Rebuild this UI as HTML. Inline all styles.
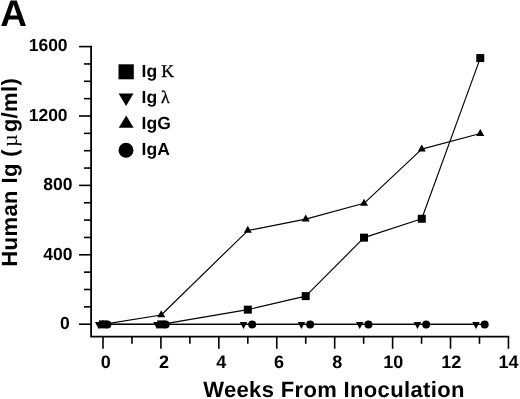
<!DOCTYPE html>
<html><head><meta charset="utf-8"><style>
html,body{margin:0;padding:0;background:#fff;}
svg{display:block;}
text{text-rendering:geometricPrecision;}
</style></head><body>
<svg style="will-change:transform" width="520" height="399" viewBox="0 0 520 399">
<rect x="0" y="0" width="520" height="399" fill="#fff"/>
<path d="M91.1 45.700000000000024V336.6H509.24" fill="none" stroke="#000" stroke-width="1.8"/>
<line x1="79" y1="324.20" x2="91.1" y2="324.20" stroke="#000" stroke-width="1.6"/>
<line x1="84" y1="306.85" x2="91.1" y2="306.85" stroke="#000" stroke-width="1.6"/>
<line x1="84" y1="289.50" x2="91.1" y2="289.50" stroke="#000" stroke-width="1.6"/>
<line x1="84" y1="272.15" x2="91.1" y2="272.15" stroke="#000" stroke-width="1.6"/>
<line x1="79" y1="254.80" x2="91.1" y2="254.80" stroke="#000" stroke-width="1.6"/>
<line x1="84" y1="237.45" x2="91.1" y2="237.45" stroke="#000" stroke-width="1.6"/>
<line x1="84" y1="220.10" x2="91.1" y2="220.10" stroke="#000" stroke-width="1.6"/>
<line x1="84" y1="202.75" x2="91.1" y2="202.75" stroke="#000" stroke-width="1.6"/>
<line x1="79" y1="185.40" x2="91.1" y2="185.40" stroke="#000" stroke-width="1.6"/>
<line x1="84" y1="168.05" x2="91.1" y2="168.05" stroke="#000" stroke-width="1.6"/>
<line x1="84" y1="150.70" x2="91.1" y2="150.70" stroke="#000" stroke-width="1.6"/>
<line x1="84" y1="133.35" x2="91.1" y2="133.35" stroke="#000" stroke-width="1.6"/>
<line x1="79" y1="116.00" x2="91.1" y2="116.00" stroke="#000" stroke-width="1.6"/>
<line x1="84" y1="98.65" x2="91.1" y2="98.65" stroke="#000" stroke-width="1.6"/>
<line x1="84" y1="81.30" x2="91.1" y2="81.30" stroke="#000" stroke-width="1.6"/>
<line x1="84" y1="63.95" x2="91.1" y2="63.95" stroke="#000" stroke-width="1.6"/>
<line x1="79" y1="46.60" x2="91.1" y2="46.60" stroke="#000" stroke-width="1.6"/>
<line x1="103.00" y1="336.6" x2="103.00" y2="348.8" stroke="#000" stroke-width="1.6"/>
<line x1="131.96" y1="336.6" x2="131.96" y2="343.8" stroke="#000" stroke-width="1.6"/>
<line x1="160.92" y1="336.6" x2="160.92" y2="348.8" stroke="#000" stroke-width="1.6"/>
<line x1="189.88" y1="336.6" x2="189.88" y2="343.8" stroke="#000" stroke-width="1.6"/>
<line x1="218.84" y1="336.6" x2="218.84" y2="348.8" stroke="#000" stroke-width="1.6"/>
<line x1="247.80" y1="336.6" x2="247.80" y2="343.8" stroke="#000" stroke-width="1.6"/>
<line x1="276.76" y1="336.6" x2="276.76" y2="348.8" stroke="#000" stroke-width="1.6"/>
<line x1="305.72" y1="336.6" x2="305.72" y2="343.8" stroke="#000" stroke-width="1.6"/>
<line x1="334.68" y1="336.6" x2="334.68" y2="348.8" stroke="#000" stroke-width="1.6"/>
<line x1="363.64" y1="336.6" x2="363.64" y2="343.8" stroke="#000" stroke-width="1.6"/>
<line x1="392.60" y1="336.6" x2="392.60" y2="348.8" stroke="#000" stroke-width="1.6"/>
<line x1="421.56" y1="336.6" x2="421.56" y2="343.8" stroke="#000" stroke-width="1.6"/>
<line x1="450.52" y1="336.6" x2="450.52" y2="348.8" stroke="#000" stroke-width="1.6"/>
<line x1="479.48" y1="336.6" x2="479.48" y2="343.8" stroke="#000" stroke-width="1.6"/>
<line x1="508.44" y1="336.6" x2="508.44" y2="348.8" stroke="#000" stroke-width="1.6"/>
<polyline points="98.70,324.40 156.92,324.40 243.50,324.40 301.42,324.40 359.74,324.40 417.46,324.40 475.98,324.40" fill="none" stroke="#000" stroke-width="1.15" stroke-linejoin="round"/>
<polyline points="107.40,324.40 165.62,324.40 252.20,324.40 310.12,324.40 368.44,324.40 426.16,324.40 484.68,324.40" fill="none" stroke="#000" stroke-width="1.15" stroke-linejoin="round"/>
<polyline points="103.00,324.40 161.22,324.40 247.80,309.65 305.72,296.12 364.04,237.65 421.76,218.74 480.28,58.08" fill="none" stroke="#000" stroke-width="1.15" stroke-linejoin="round"/>
<polyline points="103.00,324.40 161.22,315.03 247.80,230.54 305.72,219.09 364.04,203.30 421.76,149.16 480.28,133.55" fill="none" stroke="#000" stroke-width="1.15" stroke-linejoin="round"/>
<path d="M94.95 322.07L102.45 322.07L98.70 329.07Z" fill="#000"/>
<circle cx="107.40" cy="324.40" r="4" fill="#000"/>
<path d="M153.17 322.07L160.67 322.07L156.92 329.07Z" fill="#000"/>
<circle cx="165.62" cy="324.40" r="4" fill="#000"/>
<path d="M239.75 322.07L247.25 322.07L243.50 329.07Z" fill="#000"/>
<circle cx="252.20" cy="324.40" r="4" fill="#000"/>
<path d="M297.67 322.07L305.17 322.07L301.42 329.07Z" fill="#000"/>
<circle cx="310.12" cy="324.40" r="4" fill="#000"/>
<path d="M355.99 322.07L363.49 322.07L359.74 329.07Z" fill="#000"/>
<circle cx="368.44" cy="324.40" r="4" fill="#000"/>
<path d="M413.71 322.07L421.21 322.07L417.46 329.07Z" fill="#000"/>
<circle cx="426.16" cy="324.40" r="4" fill="#000"/>
<path d="M472.23 322.07L479.73 322.07L475.98 329.07Z" fill="#000"/>
<circle cx="484.68" cy="324.40" r="4" fill="#000"/>
<rect x="99.00" y="320.40" width="8" height="8" fill="#000"/>
<rect x="157.22" y="320.40" width="8" height="8" fill="#000"/>
<rect x="243.80" y="305.65" width="8" height="8" fill="#000"/>
<rect x="301.72" y="292.12" width="8" height="8" fill="#000"/>
<rect x="360.04" y="233.65" width="8" height="8" fill="#000"/>
<rect x="417.76" y="214.74" width="8" height="8" fill="#000"/>
<rect x="476.28" y="54.08" width="8" height="8" fill="#000"/>
<path d="M103.00 319.73L107.00 326.73L99.00 326.73Z" fill="#000"/>
<path d="M161.22 310.36L165.22 317.36L157.22 317.36Z" fill="#000"/>
<path d="M247.80 225.87L251.80 232.87L243.80 232.87Z" fill="#000"/>
<path d="M305.72 214.42L309.72 221.42L301.72 221.42Z" fill="#000"/>
<path d="M364.04 198.63L368.04 205.63L360.04 205.63Z" fill="#000"/>
<path d="M421.76 144.50L425.76 151.50L417.76 151.50Z" fill="#000"/>
<path d="M480.28 128.88L484.28 135.88L476.28 135.88Z" fill="#000"/>
<rect x="118.5" y="64.3" width="15.3" height="15" fill="#000"/>
<path d="M118.6 93.5H133.5L126.1 106Z" fill="#000"/>
<path d="M126.2 115.6L133.6 127.7H118.7Z" fill="#000"/>
<circle cx="126" cy="150.2" r="7.5" fill="#000"/>
<text x="141.6" y="76.5" font-family="'Liberation Sans', sans-serif" font-weight="bold" font-size="17.5">Ig<tspan x="161.3" font-family="'Liberation Serif', serif" font-weight="normal" font-size="17.8" stroke="#000" stroke-width="0.35">K</tspan></text>
<text x="141.6" y="102.5" font-family="'Liberation Sans', sans-serif" font-weight="bold" font-size="17.5">Ig<tspan x="161.1" font-family="'Liberation Serif', serif" font-weight="normal" font-size="17.8" stroke="#000" stroke-width="0.35">λ</tspan></text>
<text x="141.6" y="128.7" font-family="'Liberation Sans', sans-serif" font-weight="bold" font-size="17.5">IgG</text>
<text x="141.6" y="154.6" font-family="'Liberation Sans', sans-serif" font-weight="bold" font-size="17.5">IgA</text>
<text x="69.72" y="328.5" font-family="'Liberation Sans', sans-serif" font-weight="bold" font-size="17.5" text-anchor="end">0</text>
<text x="72.42" y="259.8" font-family="'Liberation Sans', sans-serif" font-weight="bold" font-size="17.5" text-anchor="end">400</text>
<text x="72.42" y="189.8" font-family="'Liberation Sans', sans-serif" font-weight="bold" font-size="17.5" text-anchor="end">800</text>
<text x="67.62" y="120.8" font-family="'Liberation Sans', sans-serif" font-weight="bold" font-size="17.5" text-anchor="end">1200</text>
<text x="67.62" y="51.0" font-family="'Liberation Sans', sans-serif" font-weight="bold" font-size="17.5" text-anchor="end">1600</text>
<text x="105.7" y="368.3" font-family="'Liberation Sans', sans-serif" font-weight="bold" font-size="18" text-anchor="middle">0</text>
<text x="163.9" y="368.3" font-family="'Liberation Sans', sans-serif" font-weight="bold" font-size="18" text-anchor="middle">2</text>
<text x="221.2" y="368.3" font-family="'Liberation Sans', sans-serif" font-weight="bold" font-size="18" text-anchor="middle">4</text>
<text x="279" y="368.3" font-family="'Liberation Sans', sans-serif" font-weight="bold" font-size="18" text-anchor="middle">6</text>
<text x="337.3" y="368.3" font-family="'Liberation Sans', sans-serif" font-weight="bold" font-size="18" text-anchor="middle">8</text>
<text x="393.2" y="368.3" font-family="'Liberation Sans', sans-serif" font-weight="bold" font-size="18" text-anchor="middle">10</text>
<text x="451.2" y="368.3" font-family="'Liberation Sans', sans-serif" font-weight="bold" font-size="18" text-anchor="middle">12</text>
<text x="508.5" y="368.3" font-family="'Liberation Sans', sans-serif" font-weight="bold" font-size="18" text-anchor="middle">14</text>
<text x="203.2" y="396.6" font-family="'Liberation Sans', sans-serif" font-weight="bold" font-size="22" letter-spacing="0.35">Weeks From Inoculation</text>
<text transform="translate(17.3 0) rotate(-90)" x="-266.7" y="0" font-family="'Liberation Sans', sans-serif" font-weight="bold" font-size="22" letter-spacing="0.4">Human Ig (<tspan dx="2.0" font-family="'Liberation Serif', serif" font-weight="normal">&#181;</tspan><tspan dx="1.7">g/ml)</tspan></text>
<text x="0.3" y="26.1" font-family="'Liberation Sans', sans-serif" font-weight="bold" font-size="37">A</text>
</svg>
</body></html>
